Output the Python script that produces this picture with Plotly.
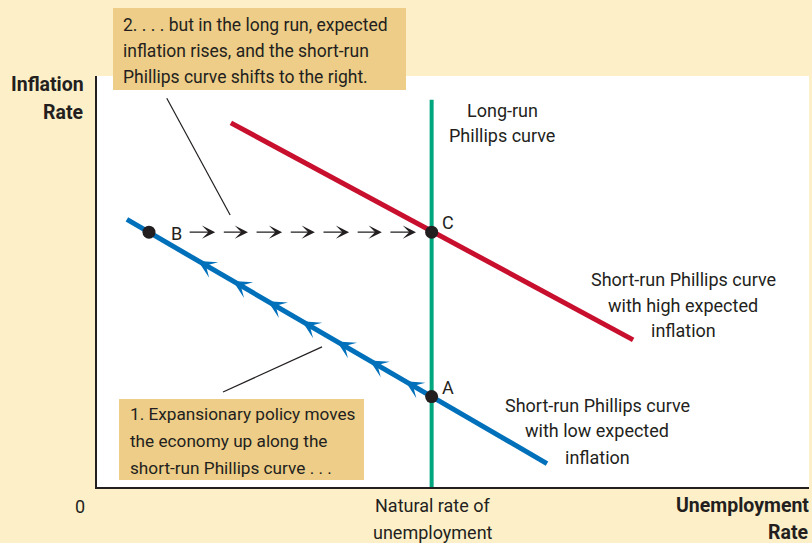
import plotly.graph_objects as go

# --- data (abstract units: unemployment 0-10, inflation 0-10) ---
natural_rate = 4.7
lrpc_y = [0.0, 9.42]

srpc_low_x = [0.42, 6.32]
srpc_low_y = [6.51, 0.57]

srpc_high_x = [1.88, 7.53]
srpc_high_y = [8.86, 3.58]

point_labels = ["B", "C", "A"]
point_x = [0.73, 4.7, 4.7]
point_y = [6.2, 6.2, 2.2]

# movement along the low curve (arrowheads pointing up the curve)
move_x = [1.42, 1.91, 2.40, 2.88, 3.37, 3.83, 4.33]
move_y = [5.50, 5.01, 4.52, 4.03, 3.54, 3.08, 2.57]

# dashed shift from B to C
shift_start = [1.28, 1.76, 2.22, 2.70, 3.16, 3.64, 4.10]
shift_end = [1.66, 2.12, 2.60, 3.06, 3.54, 4.00, 4.48]
shift_y = 6.2

# callout leader lines
lead2_x = [0.98, 1.87]
lead2_y = [9.46, 6.62]
lead1_x = [1.77, 3.16]
lead1_y = [2.31, 3.41]

CREAM = "#FDF0C9"
TAN = "#EDCD87"
INK = "#231F20"
GREEN = "#00A67E"
RED = "#C8102E"
BLUE = "#0070BA"
FONT = "Roboto, Arial, sans-serif"

# plot area in page pixels (used to place labels)
L, R, T, B = 97, 809, 76, 487


def px(x):
    return (x - L) / (R - L)


def py(y):
    return (B - y) / (B - T)


fig = go.Figure()

fig.add_trace(go.Scatter(x=[natural_rate, natural_rate], y=lrpc_y, mode="lines",
                         line=dict(color=GREEN, width=4), hoverinfo="skip"))
fig.add_trace(go.Scatter(x=srpc_high_x, y=srpc_high_y, mode="lines",
                         line=dict(color=RED, width=5), hoverinfo="skip"))
fig.add_trace(go.Scatter(x=srpc_low_x, y=srpc_low_y, mode="lines",
                         line=dict(color=BLUE, width=5), hoverinfo="skip"))
fig.add_trace(go.Scatter(x=lead2_x, y=lead2_y, mode="lines",
                         line=dict(color=INK, width=1.2), hoverinfo="skip"))
fig.add_trace(go.Scatter(x=lead1_x, y=lead1_y, mode="lines",
                         line=dict(color=INK, width=1.2), hoverinfo="skip"))
fig.add_trace(go.Scatter(x=point_x, y=point_y, mode="markers",
                         marker=dict(color=INK, size=13), text=point_labels,
                         hoverinfo="text"))

# arrowheads along the blue curve
for mx, my in zip(move_x, move_y):
    fig.add_annotation(x=mx, y=my, ax=16, ay=9.3, text="", showarrow=True,
                       arrowhead=3, arrowsize=1.5, arrowwidth=2,
                       arrowcolor=BLUE)

# dashed arrows B -> C
for s, e in zip(shift_start, shift_end):
    fig.add_annotation(x=e, y=shift_y, ax=s, ay=shift_y, axref="x", ayref="y",
                       text="", showarrow=True, arrowhead=3, arrowsize=1.7,
                       arrowwidth=1.3, arrowcolor=INK)

# callout boxes
fig.add_shape(type="rect", xref="paper", yref="paper", x0=px(113), x1=px(406),
              y0=py(90), y1=py(8), fillcolor=TAN, line_width=0, layer="above")
fig.add_shape(type="rect", xref="paper", yref="paper", x0=px(119), x1=px(364),
              y0=py(480), y1=py(399), fillcolor=TAN, line_width=0, layer="above")


def label(lines, x, ys, xanchor="center", size=18, bold=False):
    for text, y in zip(lines, ys):
        if bold:
            text = "<b>" + text + "</b>"
        fig.add_annotation(text=text, x=px(x), y=py(y), xref="paper", yref="paper",
                           xanchor=xanchor, yanchor="middle", showarrow=False,
                           font=dict(family=FONT, size=size, color=INK))


label(["2. . . . but in the long run, expected", "inflation rises, and the short-run",
       "Phillips curve shifts to the right."], 121, [25, 51, 77], "left", size=17.5)
label(["1. Expansionary policy moves", "the economy up along the",
       "short-run Phillips curve . . ."], 128, [414, 441, 468], "left", size=17.2)
label(["Inflation", "Rate"], 86, [85, 112], "right", size=19.5, bold=True)
label(["Unemployment", "Rate"], 811, [505, 532], "right", size=19.5, bold=True)
label(["0"], 80, [506])
label(["Natural rate of", "unemployment"], 432.5, [505, 532])
label(["Long-run", "Phillips curve"], 502, [110, 135])
label(["Short-run Phillips curve", "with high expected", "inflation"], 683, [279, 305, 330])
label(["Short-run Phillips curve", "with low expected", "inflation"], 597, [405, 430, 457])
label(["C"], 448, [222])
label(["B"], 176, [233])
label(["A"], 448, [387])

fig.update_layout(
    width=812, height=543,
    margin=dict(l=L, r=812 - R, t=T, b=543 - B),
    paper_bgcolor=CREAM, plot_bgcolor="white",
    showlegend=False,
)
fig.update_xaxes(range=[0, 10], showgrid=False, zeroline=False, showticklabels=False,
                 ticks="", showline=True, linecolor=INK, linewidth=1.5)
fig.update_yaxes(range=[0, 10], showgrid=False, zeroline=False, showticklabels=False,
                 ticks="", showline=True, linecolor=INK, linewidth=1.5)

# drop the browser's default page margin so the figure fills the window
fig.write_html("out.html", config={"displayModeBar": False},
               post_script="document.body.style.margin='0';")
